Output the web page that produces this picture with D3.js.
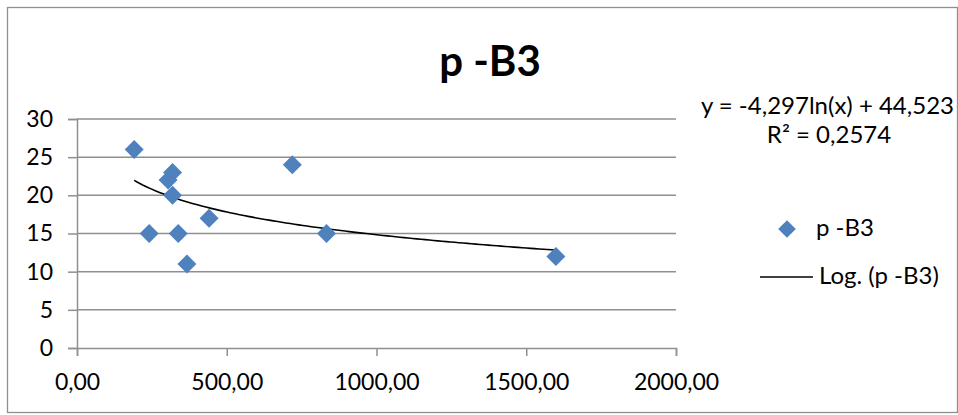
<!DOCTYPE html>
<html>
<head>
<meta charset="utf-8">
<script src="https://cdn.jsdelivr.net/npm/d3@7"></script>
<style>
  html, body { margin: 0; padding: 0; background: #fff; }
  svg { display: block; font-family: Lato, "Open Sans", sans-serif; }
</style>
</head>
<body>
<svg id="chart" width="958" height="415"></svg>
<script>
// Series "p -B3": x values and y values
const xValues = [191, 241, 304, 319, 319, 338, 367, 441, 719, 833, 1599];
const yValues = [26, 15, 22, 23, 20, 15, 11, 17, 24, 15, 12];

// Logarithmic trend line coefficients: y = a*ln(x) + b
const trendA = -4.297;
const trendB = 44.523;
const rSquared = "0,2574";

const xTicks = [0, 500, 1000, 1500, 2000];
const yTicks = [0, 5, 10, 15, 20, 25, 30];

const seriesName = "p -B3";
const trendName = "Log. (p -B3)";
const equationText = "y = -4,297ln(x) + 44,523";

const fmtX = d => d3.format(".2f")(d).replace(".", ",");

const svg = d3.select("#chart");
const gridColor = "#8f8f8f";
const blue = "#4F81BD";
const fontSize = 23;

// chart border
svg.append("rect")
  .attr("x", 7.5).attr("y", 7.5)
  .attr("width", 950).attr("height", 405)
  .attr("fill", "#fff")
  .attr("stroke", gridColor).attr("stroke-width", 1.3);

const x = d3.scaleLinear().domain([0, 2000]).range([77, 676]);
const y = d3.scaleLinear().domain([0, 30]).range([348, 119]);

// horizontal gridlines
svg.append("g").selectAll("line").data(yTicks.filter(d => d > 0)).join("line")
  .attr("x1", x(0)).attr("x2", x(2000))
  .attr("y1", d => y(d)).attr("y2", d => y(d))
  .attr("stroke", gridColor).attr("stroke-width", 1.5);

// y axis
const yAxis = svg.append("g")
  .attr("transform", `translate(${x(0)},0)`)
  .call(d3.axisLeft(y).tickValues(yTicks).tickSize(9).tickPadding(15).tickFormat(d3.format("d")));
yAxis.select(".domain").attr("stroke", gridColor).attr("stroke-width", 1.5);
yAxis.selectAll(".tick line").attr("stroke", gridColor).attr("stroke-width", 1.5);
yAxis.selectAll(".tick text").attr("font-size", fontSize).attr("fill", "#000")
  .attr("font-family", "Lato, sans-serif");

// x axis
const xAxis = svg.append("g")
  .attr("transform", `translate(0,${y(0)})`)
  .call(d3.axisBottom(x).tickValues(xTicks).tickSize(8).tickPadding(18).tickFormat(fmtX));
xAxis.select(".domain").attr("stroke", gridColor).attr("stroke-width", 1.5);
xAxis.selectAll(".tick line").attr("stroke", gridColor).attr("stroke-width", 1.5);
xAxis.selectAll(".tick text").attr("font-size", fontSize).attr("fill", "#000")
  .attr("font-family", "Lato, sans-serif");

// logarithmic trend line across the data range
const xMin = d3.min(xValues), xMax = d3.max(xValues);
const trendXs = d3.range(0, 101).map(i => xMin + (xMax - xMin) * i / 100);
svg.append("path")
  .datum(trendXs)
  .attr("fill", "none")
  .attr("stroke", "#000")
  .attr("stroke-width", 1.6)
  .attr("d", d3.line().x(d => x(d)).y(d => y(trendA * Math.log(d) + trendB)));

// data points as diamonds
const diamond = d3.symbol().type(d3.symbolSquare).size(180)();
svg.append("g").selectAll("path").data(xValues.map((v, i) => [v, yValues[i]])).join("path")
  .attr("d", diamond)
  .attr("transform", d => `translate(${x(d[0])},${y(d[1])}) rotate(45)`)
  .attr("fill", blue);

// title
svg.append("text")
  .attr("x", 490).attr("y", 76)
  .attr("text-anchor", "middle")
  .attr("font-size", 42).attr("font-weight", "bold")
  .text(seriesName);

// trend line equation
svg.append("text")
  .attr("x", 954).attr("y", 114)
  .attr("text-anchor", "end")
  .attr("font-size", fontSize + 1)
  .text(equationText);
svg.append("text")
  .attr("x", 829).attr("y", 143)
  .attr("text-anchor", "middle")
  .attr("font-size", fontSize + 1)
  .text("R² = " + rSquared);

// legend
const legend = svg.append("g");
legend.append("path")
  .attr("d", d3.symbol().type(d3.symbolSquare).size(156)())
  .attr("transform", "translate(787,229) rotate(45)")
  .attr("fill", blue);
legend.append("text").attr("x", 816).attr("y", 236).attr("font-size", fontSize + 1).text(seriesName);
legend.append("line")
  .attr("x1", 760).attr("x2", 813).attr("y1", 277).attr("y2", 277)
  .attr("stroke", "#000").attr("stroke-width", 1.6);
legend.append("text").attr("x", 819).attr("y", 284).attr("font-size", fontSize + 1).text(trendName);
</script>
</body>
</html>
